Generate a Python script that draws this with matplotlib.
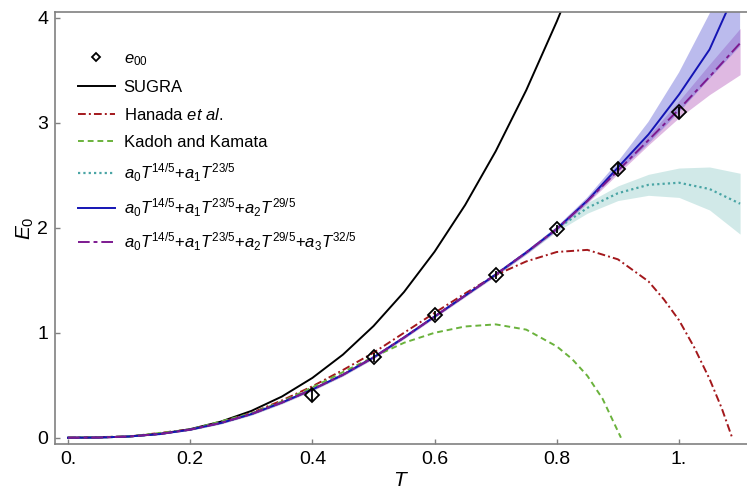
import numpy as np
import matplotlib.pyplot as plt

plt.rcParams['font.family'] = ['Liberation Sans', 'DejaVu Sans']
plt.rcParams['mathtext.fontset'] = 'custom'
plt.rcParams['mathtext.it'] = 'Liberation Sans:italic'
plt.rcParams['mathtext.rm'] = 'Liberation Sans'
plt.rcParams['mathtext.default'] = 'it'

# lattice points e00
t_pts = [0.4, 0.5, 0.6, 0.7, 0.8, 0.9, 1.0]
e_pts = [0.41, 0.765, 1.165, 1.55, 1.99, 2.565, 3.10]
e_err = [0.065, 0.04, 0.04, 0.04, 0.04, 0.05, 0.05]

# SUGRA
t_sugra = [0, .05, .1, .15, .2, .25, .3, .35, .4, .45, .5, .55, .6, .65, .7, .75, .8, .82]
e_sugra = [0, .0017, .0117, .0365, .0818, .153, .255, .392, .570, .792, 1.064,
           1.389, 1.773, 2.218, 2.730, 3.312, 3.967, 4.251]

# Hanada et al.
t_hanada = [0, .1, .2, .25, .3, .35, .4, .45, .5, .55, .6, .65, .7, .75, .8, .85,
            .9, .95, .975, 1.0, 1.025, 1.05, 1.07, 1.087]
e_hanada = [0, .0115, .079, .145, .235, .355, .49, .645, .81, 1.0, 1.19, 1.375,
            1.55, 1.68, 1.77, 1.79, 1.70, 1.49, 1.32, 1.12, .86, .56, .28, 0]

# Kadoh and Kamata
t_kadoh = [0, .1, .2, .3, .35, .4, .45, .5, .55, .6, .65, .7, .75, .8, .825, .85, .875, .905]
e_kadoh = [0, .0115, .078, .232, .345, .48, .625, .77, .905, 1.0, 1.06, 1.08,
           1.03, .87, .75, .59, .37, 0]

# fits, common T grid
t_fit = [0, .05, .1, .15, .2, .25, .3, .35, .4, .45, .5, .55, .6, .65, .7, .75,
         .8, .85, .9, .95, 1.0, 1.05, 1.1]

fit1 = [0, .0017, .0115, .035, .077, .14, .225, .335, .46, .60, .765, .955, 1.155,
        1.355, 1.555, 1.765, 1.99, 2.19, 2.33, 2.41, 2.43, 2.37, 2.23]
fit1_hi = [0, .002, .013, .04, .085, .15, .237, .348, .473, .612, .776, .965, 1.165,
           1.366, 1.568, 1.782, 2.015, 2.24, 2.40, 2.51, 2.57, 2.58, 2.52]
fit1_lo = [0, .0014, .010, .030, .069, .13, .213, .322, .447, .588, .754, .945, 1.145,
           1.344, 1.542, 1.748, 1.965, 2.14, 2.26, 2.31, 2.29, 2.17, 1.94]

fit2 = [0, .0017, .0115, .035, .077, .14, .225, .335, .46, .60, .765, .955, 1.155,
        1.355, 1.555, 1.765, 1.99, 2.26, 2.575, 2.89, 3.27, 3.70, 4.35]
fit2_hi = [0, .002, .013, .039, .083, .148, .234, .345, .471, .612, .778, .968, 1.168,
           1.368, 1.569, 1.781, 2.01, 2.29, 2.63, 3.01, 3.48, 4.04, 4.75]
fit2_lo = [0, .0014, .010, .031, .071, .132, .216, .325, .449, .588, .752, .942, 1.142,
           1.342, 1.541, 1.749, 1.97, 2.235, 2.53, 2.80, 3.10, 3.42, 3.73]

fit3 = [0, .0017, .0115, .035, .077, .14, .225, .335, .46, .60, .765, .955, 1.155,
        1.355, 1.555, 1.765, 1.99, 2.255, 2.545, 2.835, 3.13, 3.44, 3.76]
fit3_hi = [0, .002, .013, .039, .083, .148, .234, .345, .471, .612, .778, .968, 1.168,
           1.368, 1.569, 1.781, 2.006, 2.275, 2.575, 2.88, 3.21, 3.56, 3.90]
fit3_lo = [0, .0014, .010, .031, .071, .132, .216, .325, .449, .588, .752, .942, 1.142,
           1.342, 1.541, 1.749, 1.974, 2.235, 2.515, 2.79, 3.05, 3.27, 3.46]

x_ticks = [0, 0.2, 0.4, 0.6, 0.8, 1.0]
x_ticklabels = ['0.', '0.2', '0.4', '0.6', '0.8', '1.']
y_ticks = [0, 1, 2, 3, 4]

fig = plt.figure(figsize=(7.47, 4.94), dpi=100)
ax = fig.add_axes([55/747, 1 - 444/494, 692/747, 432/494])

# bands
ax.fill_between(t_fit, fit1_lo, fit1_hi, color='#8ccac6', alpha=0.4, lw=0)
ax.fill_between(t_fit, fit3_lo, fit3_hi, color='#b050b8', alpha=0.4, lw=0)
ax.fill_between(t_fit, fit2_lo, fit2_hi, color='#6a6ad8', alpha=0.45, lw=0)

h_sugra, = ax.plot(t_sugra, e_sugra, color='black', lw=1.4, label='SUGRA')
h_han, = ax.plot(t_hanada, e_hanada, color='#a3181c', lw=1.4,
                 ls=(0, (4, 1.6, 1, 1.6)), label='Hanada $et\\ al.$')
h_kad, = ax.plot(t_kadoh, e_kadoh, color='#6ab23c', lw=1.4,
                 ls=(0, (3, 2)), label='Kadoh and Kamata')
h_f1, = ax.plot(t_fit, fit1, color='#4aa5a5', lw=1.6, ls=(0, (1, 1.4)),
                label='$a_0T^{14/5}{+}a_1T^{23/5}$')
h_f2, = ax.plot(t_fit, fit2, color='#1414b4', lw=1.4,
                label='$a_0T^{14/5}{+}a_1T^{23/5}{+}a_2T^{29/5}$')
h_f3, = ax.plot(t_fit, fit3, color='#7d1a90', lw=1.4, ls=(0, (6, 2, 2, 2)),
                label='$a_0T^{14/5}{+}a_1T^{23/5}{+}a_2T^{29/5}{+}a_3T^{32/5}$')

ax.errorbar(t_pts, e_pts, yerr=e_err, fmt='none', ecolor='black', elinewidth=1.3, zorder=5)
h_pts, = ax.plot(t_pts, e_pts, ls='none', marker='D', ms=7.5, mfc='none',
                 mec='black', mew=1.3, zorder=6, label='$e_{00}$')

ax.set_xlim(-0.0213, 1.1113)
ax.set_ylim(-0.06, 4.057)

ax.set_xticks(x_ticks)
ax.set_xticklabels(x_ticklabels)
ax.set_yticks(y_ticks)
ax.tick_params(direction='in', length=3.5, width=1, color='#808080',
               labelsize=14, pad=5)

for s in ['left', 'bottom', 'top']:
    ax.spines[s].set_color('#808080')
    ax.spines[s].set_linewidth(1.2)
ax.spines['right'].set_visible(False)

ax.set_xlabel('$T$', fontsize=15, labelpad=2)
ax.set_ylabel('$E_0$', fontsize=15, labelpad=1)

leg = ax.legend(handles=[h_pts, h_sugra, h_han, h_kad, h_f1, h_f2, h_f3],
                loc='upper left', bbox_to_anchor=(0.033, 0.91), frameon=False,
                fontsize=12, handlelength=2.2, handletextpad=0.55,
                labelspacing=0.72, borderpad=0, borderaxespad=0, markerscale=0.6)

fig.savefig('out.png', dpi=100)
